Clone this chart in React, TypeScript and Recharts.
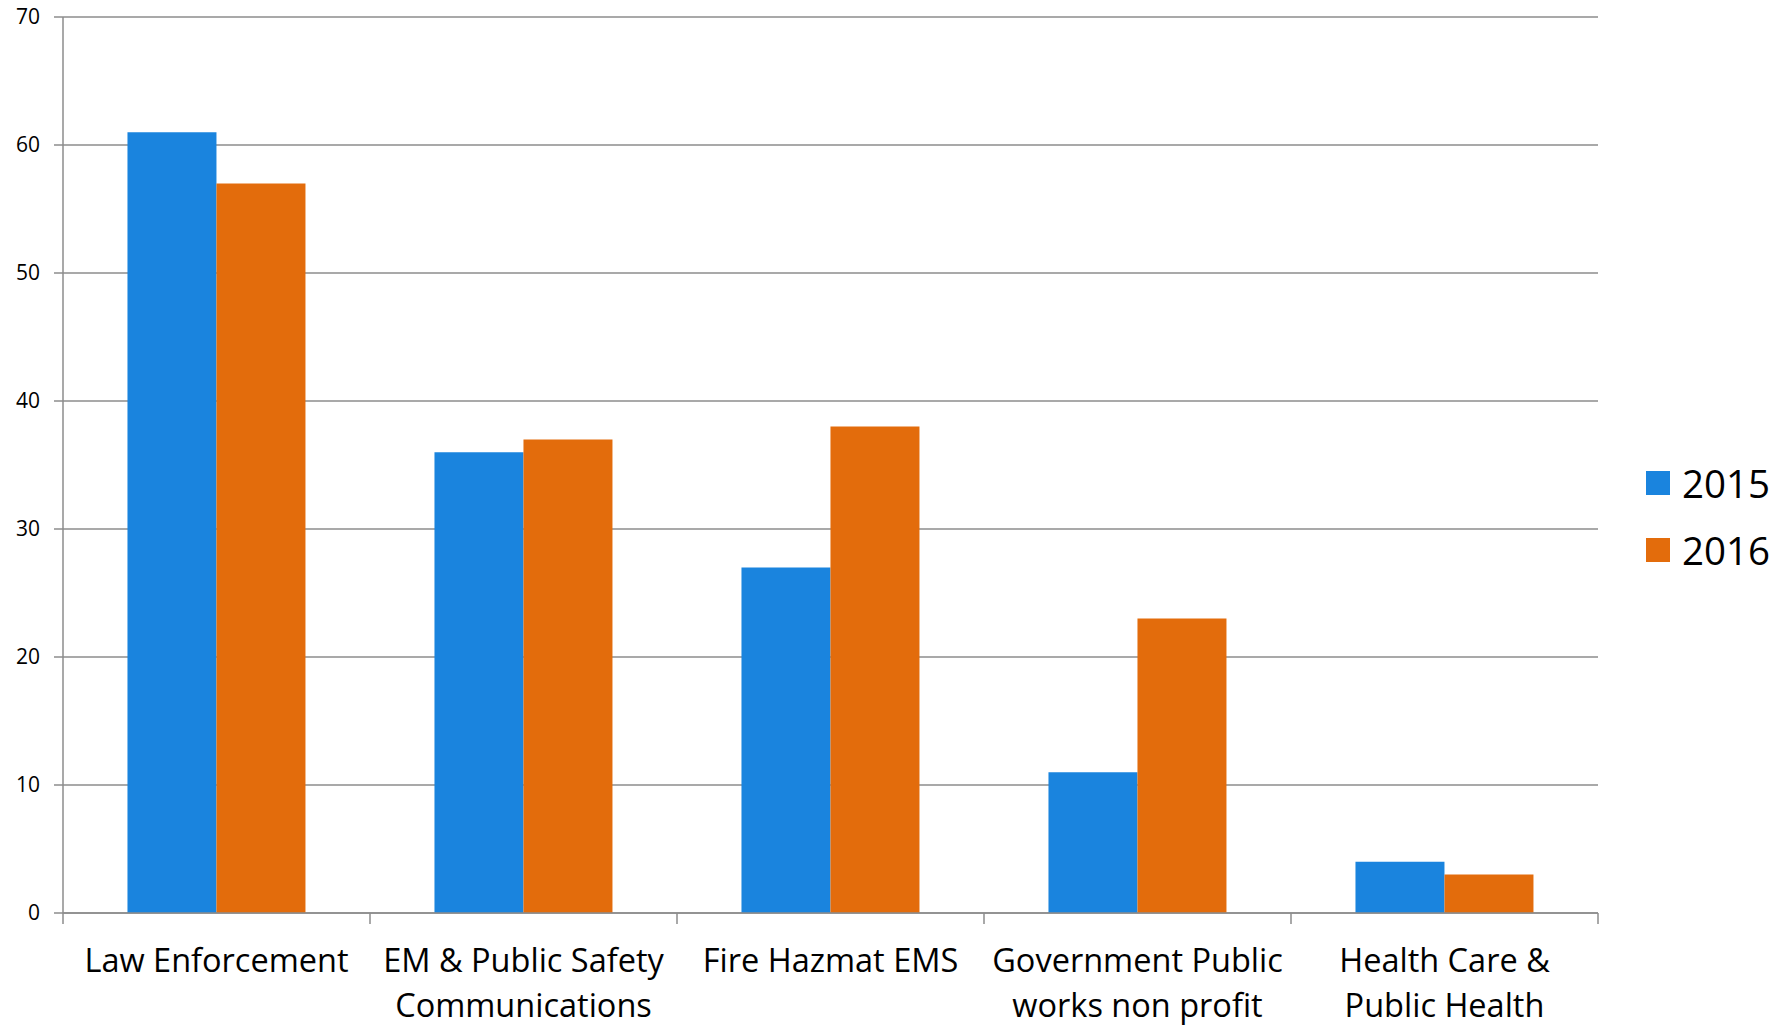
import React from "react";
import { BarChart, Bar, XAxis, YAxis, CartesianGrid } from "recharts";

const categories = [
  "Law Enforcement",
  "EM & Public Safety Communications",
  "Fire Hazmat EMS",
  "Government Public works non profit",
  "Health Care & Public Health",
];
const tickLines = [
  ["Law Enforcement"],
  ["EM & Public Safety", "Communications"],
  ["Fire Hazmat EMS"],
  ["Government Public", "works non profit"],
  ["Health Care &", "Public Health"],
];
const values2015 = [61, 36, 27, 11, 4];
const values2016 = [57, 37, 38, 23, 3];
const yTicks = [0, 10, 20, 30, 40, 50, 60, 70];

const series = [
  { key: "y2015", name: "2015", color: "#1a84de" },
  { key: "y2016", name: "2016", color: "#e36c0c" },
];

const data = categories.map((c, i) => ({
  name: c,
  y2015: values2015[i],
  y2016: values2016[i],
}));

const W = 1783;
const H = 1025;
const xAxisHeight = 30;
const margin = { top: 17, right: 185, left: 0, bottom: 112 - xAxisHeight };
const yAxisWidth = 63;
const axisColor = "#8c8c8c";
const font = "'Open Sans', sans-serif";

function CategoryTick(props: any) {
  const { x, y, payload, index } = props;
  const band = (W - margin.right - yAxisWidth) / categories.length;
  const lines = tickLines[index] || [payload.value];
  const axisY = y - 13;
  return (
    <g>
      <line x1={x - band / 2} x2={x - band / 2} y1={axisY} y2={axisY + 11} stroke={axisColor} strokeWidth={1.5} />
      {index === categories.length - 1 && (
        <line x1={x + band / 2} x2={x + band / 2} y1={axisY} y2={axisY + 11} stroke={axisColor} strokeWidth={1.5} />
      )}
      {lines.map((l: string, i: number) => (
        <text key={i} x={x} y={y + 46 + i * 45} textAnchor="middle" fontSize={32.5} fontFamily={font} fill="#000">
          {l}
        </text>
      ))}
    </g>
  );
}

function LegendBox() {
  return (
    <div style={{ position: "absolute", left: 1646, top: 449, fontFamily: font }}>
      {series.map((s) => (
        <div key={s.key} style={{ display: "flex", alignItems: "center", height: 67 }}>
          <div style={{ width: 24, height: 24, background: s.color, marginRight: 12 }} />
          <span style={{ fontSize: 38.5, color: "#000", lineHeight: "40px" }}>{s.name}</span>
        </div>
      ))}
    </div>
  );
}

export default function App() {
  return (
    <div style={{ position: "absolute", left: 0, top: 0, width: W, height: H, background: "#fff" }}>
      <BarChart width={W} height={H} data={data} margin={margin} barCategoryGap="21%" barGap={0}>
        <CartesianGrid vertical={false} stroke={axisColor} strokeWidth={1.5} />
        <XAxis
          dataKey="name"
          height={xAxisHeight}
          interval={0}
          tickLine={false}
          tickSize={11}
          axisLine={{ stroke: axisColor, strokeWidth: 1.5 }}
          tick={<CategoryTick />}
        />
        <YAxis
          width={yAxisWidth}
          domain={[0, 70]}
          ticks={yTicks}
          interval={0}
          tickSize={9}
          tickMargin={14}
          axisLine={{ stroke: axisColor, strokeWidth: 1.5 }}
          tickLine={{ stroke: axisColor, strokeWidth: 1.5 }}
          tick={{ fontSize: 21, fill: "#000", fontFamily: font }}
        />
        {series.map((s) => (
          <Bar key={s.key} dataKey={s.key} name={s.name} fill={s.color} isAnimationActive={false} />
        ))}
      </BarChart>
      <LegendBox />
    </div>
  );
}
